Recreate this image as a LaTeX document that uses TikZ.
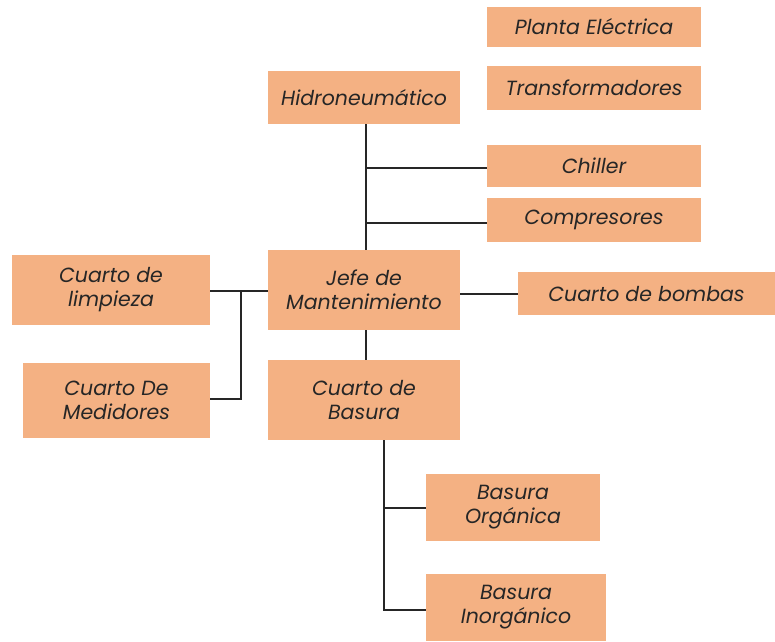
\documentclass[tikz,border=0pt]{standalone}
\usepackage{fontspec}
\setmainfont{Poppins}[ItalicFont={* Italic}]
\definecolor{peach}{HTML}{F4B183}
\begin{document}
\begin{tikzpicture}[x=1pt,y=-1pt,
  bx/.style={fill=peach,draw=none,inner sep=0pt,align=center,font=\fontsize{20.5}{24}\selectfont\itshape,text=black!85},
  ln/.style={draw=black!85,line width=1.3pt}]
\useasboundingbox (0,0) rectangle (775,641);
\newcommand\bxat[6]{\node[bx,minimum width=#4-#2,minimum height=#5-#3] (#1) at ({(#2+#4)/2},{(#3+#5)/2}) {#6};}
\bxat{pe}{487}{7}{701}{47}{Planta Eléctrica}
\bxat{tr}{487}{66}{701}{110}{Transformadores}
\bxat{hi}{268}{71}{460}{124}{Hidroneumático}
\bxat{ch}{487}{145}{701}{187}{Chiller}
\bxat{co}{487}{198}{701}{242}{Compresores}
\bxat{je}{268}{250}{460}{330}{Jefe de\\Mantenimiento}
\bxat{cb}{518}{272}{775}{315}{Cuarto de bombas}
\bxat{cl}{12}{255}{210}{325}{Cuarto de\\limpieza}
\bxat{cm}{23}{363}{210}{438}{Cuarto De\\Medidores}
\bxat{ba}{268}{360}{460}{440}{Cuarto de\\Basura}
\bxat{bo}{426}{474}{600}{541}{Basura\\Orgánica}
\bxat{bi}{426}{574}{606}{641}{Basura\\Inorgánico}
\coordinate (v1) at (366,168);
\coordinate (v2) at (366,223);
\draw[ln] (hi.south -| v1) -- (je.north -| v1);
\draw[ln] (v1) -- (ch.west |- v1);
\draw[ln] (v2) -- (co.west |- v2);
\draw[ln] (je.south -| v1) -- (ba.north -| v1);
\coordinate (r1) at (460,294);
\draw[ln] (r1) -- (cb.west |- r1);
\coordinate (l1) at (241,291);
\coordinate (l2) at (241,399);
\draw[ln] (cl.east |- l1) -- (je.west |- l1);
\draw[ln] (l1) -- (l2) -- (cm.east |- l2);
\coordinate (b0) at (384,440);
\coordinate (b1) at (384,508);
\coordinate (b2) at (384,610);
\draw[ln] (b0) -- (b2) -- (bi.west |- b2);
\draw[ln] (b1) -- (bo.west |- b1);
\end{tikzpicture}
\end{document}
